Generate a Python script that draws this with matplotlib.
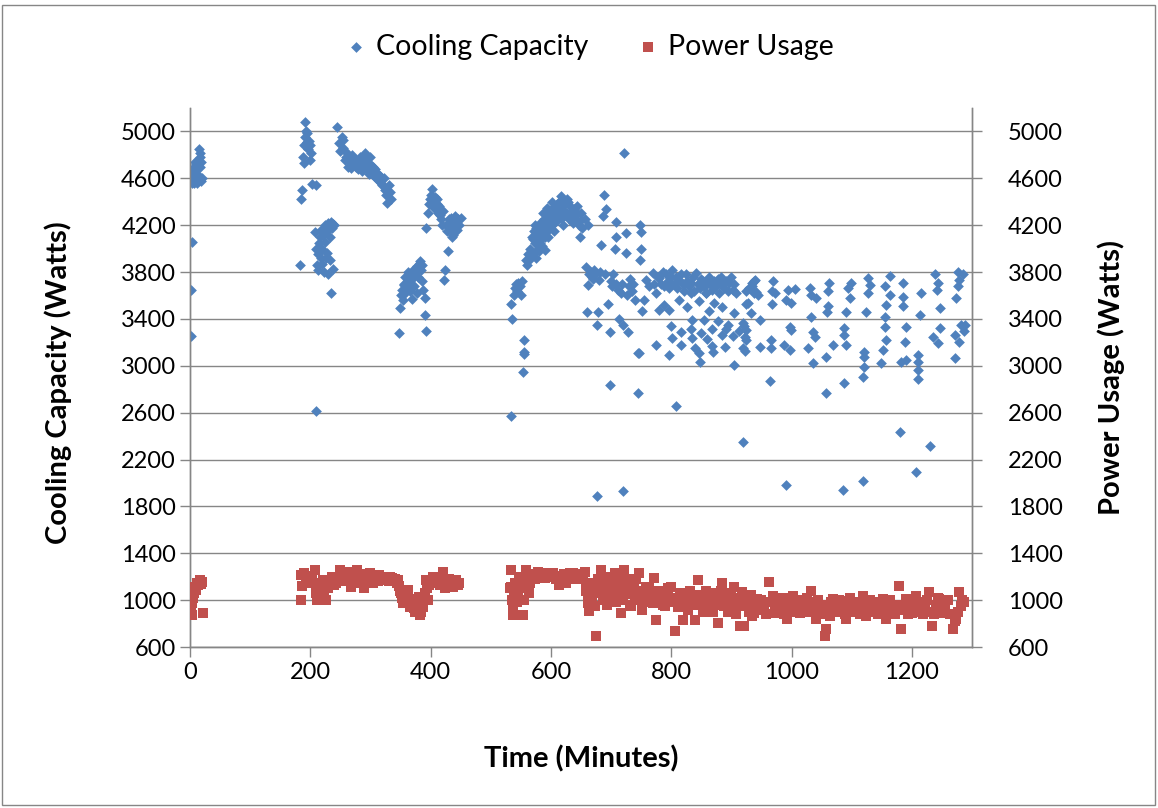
import matplotlib.pyplot as plt
from matplotlib.patches import Rectangle

plt.rcParams['font.family'] = ['Lato', 'DejaVu Sans']

# Cooling capacity readings (minutes, watts)
t_cool = [
    1, 2, 3, 3, 4, 5, 6, 7, 8, 9, 10, 11, 12, 13, 14, 15, 16, 17, 18, 19, 20, 6, 12, 17, 9,
    183, 185, 186, 188, 189, 190, 191, 192, 193, 194, 195, 196, 198, 199, 200, 201, 203, 207, 209, 209,
    210, 211, 212, 213, 214, 215, 216, 217, 218, 219, 220, 221, 222, 223, 224, 225, 226, 227, 228, 229,
    230, 231, 232, 233, 234, 235, 236, 237, 238, 240,
    245, 248, 250, 252, 254, 255, 257, 259, 261, 262, 264, 266, 268, 270, 272, 274, 276, 278, 280, 282,
    284, 286, 288, 290, 291, 293, 295, 297, 299, 300, 302, 304, 306, 308, 310, 312, 314, 316, 318, 320,
    322, 324, 326, 328, 330, 332, 334,
    348, 349, 350, 352, 354, 355, 357, 358, 360, 362, 363, 365, 366, 368, 370, 371, 373, 375, 377, 379,
    380, 382, 384, 386, 388, 390, 391, 392, 385, 378, 369, 356,
    393, 395, 397, 399, 400, 402, 404, 406, 408, 410, 412, 414, 416, 418, 420, 422, 424, 426, 428, 429,
    430, 432, 434, 436, 438, 440, 442, 444, 446, 448, 450, 411, 419, 435,
    534, 534, 536, 538, 540, 542, 544, 546, 548, 550, 552, 554, 555, 556, 556, 558, 560, 562, 564,
    566, 568, 570, 572, 574, 576, 578, 580, 582, 584, 586, 588, 590, 592, 594, 596, 598, 600, 602, 604,
    606, 608, 610, 612, 614, 616, 617, 618, 620, 622, 624, 626, 628, 630, 632, 634, 636, 638, 640, 642,
    644, 646, 648, 650, 652, 575, 585, 595, 605, 590,
    570, 574, 578, 582, 586, 590, 594, 598, 602, 606, 610, 614, 620, 626, 632, 638, 644, 650, 656, 662,
    568, 580,
    659, 661, 660, 663, 666, 668, 670, 672, 674, 676, 677, 678, 680, 682, 684, 686, 688, 690, 692, 695,
    698, 699, 700, 702, 704, 706, 708, 709, 709, 712, 714, 716, 718, 720, 720, 722, 724, 724, 726, 728,
    730, 732, 734, 736, 740, 744, 745, 747, 748, 748, 750, 750, 752, 755,
    758, 763, 769, 772, 775, 778, 780, 783, 786, 788, 791, 794, 797, 800, 802, 805, 808, 810, 813, 816,
    819, 822, 824, 827, 830, 833, 836, 838, 841, 844, 847, 850, 852, 855, 858, 860, 863, 866, 868, 871,
    874, 877, 880, 882, 885, 888, 891, 894, 896, 899, 902, 905, 908, 935, 938, 941, 944,
    780, 796, 813, 833, 846, 857, 871, 904, 924, 788, 826, 862, 885,
    774, 796, 799, 802, 808, 816, 816, 833, 835, 835, 846, 847, 849, 855, 868, 868, 869, 885, 889, 891,
    902, 905, 919, 921, 922, 924, 840, 860, 878, 895, 912,
    935, 940, 930, 938, 925, 928, 932, 919, 924, 922, 919, 947, 947,
    970, 968, 973, 968, 966, 966, 964,
    994, 1005, 991, 999, 997, 999, 988, 997, 990,
    1030, 1033, 1041, 1033, 1036, 1039, 1027, 1036,
    1063, 1061, 1061, 1059, 1069, 1058, 1057,
    1099, 1094, 1097, 1091, 1088, 1088, 1091, 1088, 1086,
    1127, 1130, 1127, 1124, 1121, 1121, 1121, 1118, 1118,
    1163, 1155, 1163, 1157, 1155, 1155, 1157, 1152, 1149,
    1185, 1185, 1185, 1191, 1188, 1182, 1191, 1181,
    1216, 1213, 1210, 1210, 1210, 1210, 1207,
    1238, 1244, 1241, 1246, 1246, 1235, 1244, 1231,
    1276, 1279, 1276, 1273, 1282, 1271, 1279, 1271, 1285, 1288, 1286,
]
cooling = [
    3255, 3650, 4060, 4560, 4600, 4650, 4580, 4700, 4620, 4680, 4720, 4600, 4640, 4700, 4760, 4850, 4820, 4700, 4740, 4580, 4600, 4560, 4560, 4780, 4740,
    3860, 4420, 4500, 4780, 4730, 4880, 4950, 5080, 5000, 4990, 4910, 4850, 4920, 4880, 4760, 4820, 4550, 4140, 2615, 4545,
    4000, 3860, 3820, 3950, 4050, 3980, 4100, 3920, 4160, 4000, 3870, 4120, 4180, 3800, 4060, 4200, 3920, 4150, 3960, 4220,
    3780, 4190, 4100, 3900, 3620, 4230, 4180, 4210, 3830, 4200,
    5040, 4900, 4830, 4950, 4930, 4860, 4760, 4780, 4820, 4700, 4760, 4740, 4690, 4800, 4720, 4760, 4700, 4740, 4680, 4780,
    4720, 4660, 4740, 4700, 4815, 4760, 4680, 4640, 4720, 4780, 4660, 4700, 4620, 4680, 4600, 4640, 4580, 4620, 4560, 4540,
    4600, 4500, 4460, 4390, 4540, 4480, 4420,
    3280, 3490, 3600, 3650, 3560, 3700, 3620, 3760, 3680, 3800, 3720, 3640, 3780, 3700, 3820, 3750, 3680, 3800, 3850, 3760,
    3870, 3890, 3820, 3720, 3650, 3580, 3430, 3300, 3860, 3620, 3570, 3690,
    4180, 4300, 4380, 4420, 4460, 4510, 4400, 4350, 4440, 4380, 4300, 4360, 4290, 4250, 4320, 3730, 3820, 4200, 4150, 3980,
    4250, 4180, 4260, 4200, 4120, 4280, 4220, 4160, 4250, 4200, 4260, 4420, 4200, 4100,
    2570, 3530, 3400, 3600, 3660, 3700, 3640, 3710, 3680, 3600, 3720, 2950, 3120, 3220, 3100, 3900, 3860, 3950, 3900,
    4000, 4100, 3950, 4150, 4050, 4180, 4000, 4120, 4220, 4080, 4160, 4250, 4200, 4300, 4150, 4240, 4320, 4280, 4200, 4350,
    4300, 4260, 4380, 4320, 4400, 4260, 4450, 4340, 4420, 4280, 4380, 4300, 4400, 4250, 4360, 4300, 4220, 4340, 4280, 4240,
    4300, 4200, 4100, 4240, 4180, 3920, 4020, 4100, 4150, 3990,
    4080, 4200, 4180, 4050, 4300, 4100, 4350, 4180, 4400, 4230, 4240, 4300, 4200, 4420, 4260, 4240, 4360, 4300, 4250, 4200,
    3940, 3980,
    3840, 3690, 3460, 3780, 3800, 3760, 3740, 3820, 3780, 1890, 3350, 3460, 3730, 3800, 4030, 4280, 4460, 3780, 4340, 3530,
    2840, 3290, 3720, 3680, 3780, 4000, 3700, 4230, 4100, 3650, 3400, 3620, 3700, 3350, 1930, 4820, 4130, 3960, 3600, 3290,
    3680, 3740, 3640, 3700, 3560, 2770, 3110, 3110, 4200, 3900, 4140, 4000, 3470, 3560,
    3730, 3680, 3790, 3700, 3620, 3760, 3750, 3700, 3800, 3680, 3780, 3720, 3660, 3760, 3820, 3700, 3760, 3660, 3730, 3780,
    3700, 3640, 3780, 3720, 3680, 3710, 3760, 3640, 3790, 3700, 3660, 3740, 3720, 3680, 3620, 3700, 3760, 3690, 3650, 3720,
    3680, 3740, 3620, 3760, 3700, 3660, 3720, 3640, 3710, 3760, 3650, 3700, 3620, 3680, 3720, 3630, 3600,
    3480, 3480, 3560, 3620, 3550, 3620, 3540, 3450, 3530, 3520, 3500, 3470, 3500,
    3180, 3090, 3340, 3240, 2660, 3290, 3180, 3310, 3390, 3240, 3110, 3030, 3280, 3390, 3310, 3165, 3120, 3260, 3160, 3310,
    3250, 3010, 2350, 3340, 3130, 3220, 3150, 3230, 3380, 3350, 3300,
    3706, 3729, 3663, 3620, 3634, 3534, 3454, 3363, 3306, 3249, 3149, 3391, 3163,
    3720, 3634, 3620, 3529, 3220, 3149, 2871,
    3649, 3654, 3563, 3534, 3334, 3306, 3177, 3134, 1982,
    3663, 3606, 3577, 3414, 3291, 3249, 3149, 3020,
    3706, 3634, 3506, 3463, 3177, 3077, 2769,
    3706, 3663, 3577, 3463, 3320, 3263, 3177, 2849, 1940,
    3749, 3691, 3620, 3463, 3120, 3077, 2991, 2906, 2019,
    3763, 3677, 3606, 3520, 3420, 3334, 3220, 3134, 3020,
    3706, 3591, 3506, 3334, 3206, 3034, 3049, 2431,
    3620, 3434, 3091, 3034, 2963, 2891, 2096,
    3783, 3706, 3649, 3491, 3320, 3249, 3191, 2315,
    3797, 3734, 3677, 3577, 3349, 3263, 3206, 3063, 3780, 3350, 3300,
]

# Power usage readings (minutes, watts)
t_power = [
    1, 3, 3, 4, 6, 8, 10, 12, 14, 16, 17, 19, 20, 21, 2, 5, 7,
    185, 185, 187, 190, 193, 196, 199, 202, 205, 208, 210, 211, 211, 214, 217, 219, 221, 223, 226, 228,
    230, 233, 236, 239, 243, 246, 249, 252, 255, 258, 260, 263, 266, 268, 271, 274, 277, 280, 283, 285,
    288, 290, 293, 296, 299, 302, 305, 307, 310, 313, 315, 318, 321, 324, 326, 330, 333, 335, 338, 341,
    344, 346, 348, 349, 351, 353, 354, 356, 358, 360, 363, 365, 368, 370, 372, 374, 376, 378, 380, 382,
    384, 386, 388, 390, 391, 393, 394, 396, 398, 401, 404, 407, 410, 413, 415, 418, 421, 424, 427, 430,
    432, 435, 437, 440, 443, 446, 448,
    532, 534, 534, 536, 537, 537, 539, 541, 543, 545, 547, 549, 551, 553, 555, 557, 559, 561, 564, 566,
    568, 570, 573, 576, 578, 581, 584, 587, 590, 592, 595, 598, 600, 603, 606, 609, 612, 614, 617, 620,
    622, 625, 628, 631, 634, 636, 639, 642, 645, 647, 650, 653, 656, 658, 659, 661, 662, 664, 666, 668,
    670, 672, 673, 675, 677, 679, 681, 684, 686, 688, 690, 692, 694, 695, 697, 699, 702, 704, 706, 708,
    711, 713, 715, 717, 719, 720, 722, 725, 727, 729, 731, 733, 736, 738, 740, 742, 745, 747, 750, 752,
    755, 758, 760, 763, 766, 769, 772, 775, 777, 780, 783, 786, 789, 792, 795, 798, 800, 803, 806, 808,
    811, 814, 817, 819, 822, 825, 828, 831, 833, 836, 839, 841, 844, 847, 850, 853, 855, 858, 861, 864,
    866, 869, 872, 874, 877, 880, 883, 885, 888, 891, 894, 897, 899, 902, 904, 907, 910, 912, 915, 918,
    921, 924, 926, 929, 932, 935, 938, 941, 943, 946, 950, 955, 958, 963, 966, 969, 972, 975, 978, 981,
    985, 988, 992, 995, 997, 1000, 1003, 1006, 1010, 1014, 1018, 1022, 1026, 1030, 1033, 1036, 1039, 1041, 1044, 1047,
    1050, 1053, 1055, 1058, 1061, 1064, 1066, 1069, 1072, 1075, 1079, 1083, 1086, 1089, 1091, 1094, 1097, 1100, 1102, 1106,
    1110, 1114, 1118, 1121, 1124, 1127, 1130, 1133, 1135, 1139, 1143, 1147, 1150, 1152, 1155, 1157, 1160, 1164, 1168, 1172,
    1176, 1179, 1182, 1185, 1188, 1190, 1193, 1196, 1199, 1201, 1204, 1207, 1210, 1213, 1215, 1218, 1222, 1226, 1229, 1232,
    1234, 1237, 1240, 1243, 1245, 1248, 1251, 1255, 1260, 1264, 1268, 1271, 1273, 1276, 1279, 1281, 1284, 1286,
]
power = [
    880, 874, 973, 1016, 1059, 1116, 1087, 1150, 1130, 1160, 1172, 1140, 1158, 888, 940, 1020, 1080,
    1215, 1002, 1120, 1230, 1180, 1150, 1210, 1190, 1144, 1257, 1060, 1002, 1087, 1130, 1050, 1150, 1172, 1080, 1002, 1120,
    1101, 1160, 1200, 1130, 1144, 1200, 1257, 1180, 1220, 1160, 1201, 1240, 1180, 1116, 1200, 1230, 1257, 1190, 1150, 1201,
    1220, 1101, 1170, 1210, 1230, 1180, 1150, 1172, 1200, 1160, 1215, 1190, 1170, 1200, 1187, 1160, 1200, 1187, 1170, 1180,
    1150, 1172, 1120, 1080, 1059, 1020, 973, 1050, 980, 1000, 1087, 945, 960, 1010, 930, 902, 920, 960, 1030, 874,
    900, 980, 945, 1000, 1059, 1172, 1100, 1002, 1130, 1160, 1201, 1150, 1180, 1160, 1130, 1190, 1244, 1101, 1150, 1180,
    1172, 1140, 1116, 1160, 1172, 1130, 1150,
    1100, 1258, 1116, 1000, 946, 875, 1050, 1150, 980, 1080, 1200, 1120, 1173, 875, 1000, 1100, 1258, 1180, 1060, 1150,
    1220, 1201, 1180, 1210, 1240, 1230, 1200, 1220, 1190, 1216, 1230, 1200, 1215, 1230, 1200, 1180, 1210, 1130, 1200, 1180,
    1220, 1145, 1200, 1230, 1190, 1230, 1210, 1180, 1200, 1201, 1220, 1180, 1244, 1145, 1080, 975, 1040, 904, 1120, 1000,
    1060, 1150, 950, 691, 1080, 1180, 1116, 1258, 1000, 1200, 1100, 1031, 960, 1150, 1173, 1050, 1200, 1100, 1230, 980,
    1003, 1150, 1080, 890, 1200, 1000, 1258, 1116, 1050, 1180, 960, 946, 1060, 1120, 1000, 1180, 1080, 1230, 1003, 920,
    1060, 1116, 980, 1100, 1040, 975, 1187, 833, 1000, 1080, 1060, 960, 946, 1040, 1100, 980, 1116, 1020, 733, 1003,
    940, 1060, 980, 833, 1060, 1000, 920, 1080, 960, 975, 833, 1040, 1173, 960, 1020, 900, 1003, 1080, 940, 1000,
    1060, 900, 1040, 960, 804, 1000, 1080, 1145, 946, 1000, 900, 1040, 1060, 960, 1116, 880, 946, 1020, 776, 1066,
    780, 1000, 951, 900, 1040, 866, 890, 980, 1009, 920, 1000, 960, 880, 1151, 980, 1037, 920, 894, 1000, 940,
    1020, 880, 837, 1000, 951, 900, 1037, 980, 940, 894, 1000, 960, 1020, 900, 1080, 980, 951, 837, 1000, 920,
    960, 880, 694, 751, 900, 866, 980, 1009, 940, 900, 1000, 960, 994, 880, 837, 960, 1020, 900, 923, 980,
    960, 880, 1037, 960, 866, 920, 1000, 900, 980, 940, 880, 960, 920, 1009, 880, 837, 960, 1000, 923, 880,
    960, 1123, 751, 920, 960, 1009, 880, 940, 1000, 894, 960, 1037, 900, 980, 951, 880, 940, 1000, 1066, 900,
    780, 880, 960, 1020, 1009, 940, 894, 960, 1000, 880, 751, 820, 837, 900, 1066, 951, 1000, 980,
]

y_ticks = list(range(600, 5001, 400))
x_ticks = list(range(0, 1201, 200))

grid_c = '#868686'
blue = '#4F81BD'
red = '#C0504D'

fig = plt.figure(figsize=(11.58, 8.08), dpi=100)
ax = fig.add_axes([190 / 1158, 1 - 647 / 808, 782 / 1158, 539 / 808])
ax2 = ax.twinx()

ax.scatter(t_cool, cooling, marker='D', s=30, color=blue, linewidths=0, label='Cooling Capacity', zorder=3)
ax2.scatter(t_power, power, marker='s', s=48, color=red, linewidths=0, label='Power Usage', zorder=3)

for a in (ax, ax2):
    a.set_xlim(0, 1300)
    a.set_ylim(600, 5200)
    a.set_yticks(y_ticks)
    for s in a.spines.values():
        s.set_color(grid_c)
        s.set_linewidth(1.0)
    a.spines['top'].set_visible(False)

ax.set_xticks(x_ticks)
ax.grid(axis='y', color=grid_c, linewidth=1.0)
ax.set_axisbelow(True)
ax.tick_params(axis='both', direction='out', length=7, width=1.0, color=grid_c,
               labelsize=17, pad=3)
ax.tick_params(axis='x', pad=4)
ax2.tick_params(axis='y', direction='out', length=7, width=1.0, color=grid_c,
                labelsize=17, pad=19)

ax.set_xlabel('Time (Minutes)', fontsize=21, fontweight='bold')
ax.xaxis.set_label_coords(0.5, -0.182)
ax.set_ylabel('Cooling Capacity (Watts)', fontsize=21, fontweight='bold')
ax.yaxis.set_label_coords(-0.151, 0.49)
ax2.set_ylabel('Power Usage (Watts)', fontsize=21, fontweight='bold', rotation=90)
ax2.yaxis.set_label_coords(1.161, 0.5)

h1, l1 = ax.get_legend_handles_labels()
h2, l2 = ax2.get_legend_handles_labels()
fig.legend(h1 + h2, l1 + l2, loc='center', bbox_to_anchor=(0.51, 0.942), ncol=2,
           frameon=False, fontsize=20.5, handlelength=0.6, handletextpad=0.4,
           columnspacing=1.8, markerscale=1.0)

fig.patches.append(Rectangle((2 / 1158, 3 / 808), 1153 / 1158, 800 / 808, transform=fig.transFigure,
                             fill=False, edgecolor=grid_c, linewidth=1.0))

fig.savefig('out.png', dpi=100)
